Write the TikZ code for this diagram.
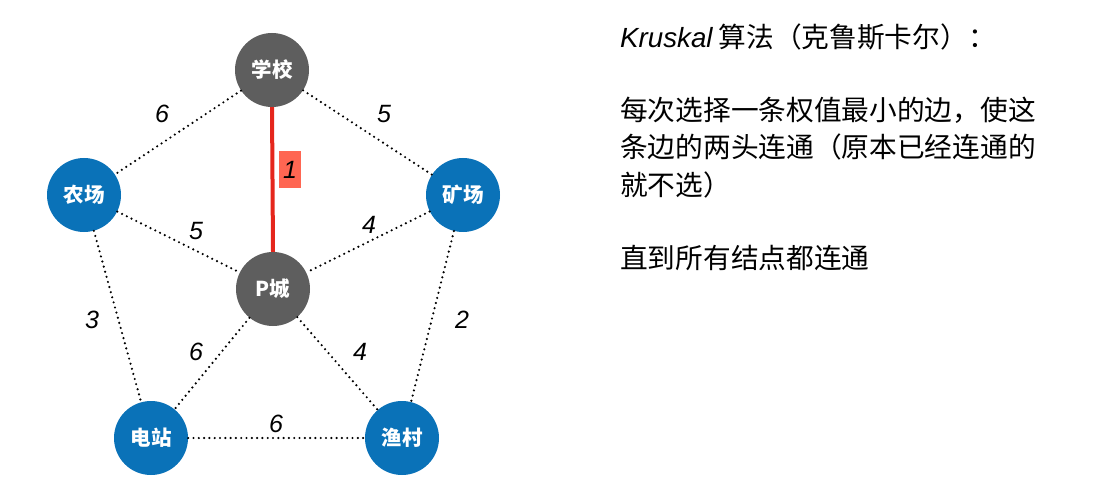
\documentclass[tikz,border=0pt]{standalone}
\usepackage{fontspec}
\setmainfont{Liberation Sans}
\newfontfamily\cjk{Noto Sans CJK SC}
\definecolor{nodegray}{HTML}{5E5E5E}
\definecolor{nodeblue}{HTML}{0A72B8}
\definecolor{redline}{HTML}{E5261C}
\definecolor{boxred}{HTML}{FF6652}
\tikzset{
  vtx/.style={circle, minimum size=74pt, inner sep=0pt, text=white, font=\fontsize{20.5}{24}\selectfont\cjk\bfseries},
  grayv/.style={vtx, fill=nodegray},
  bluev/.style={vtx, fill=nodeblue},
  dotedge/.style={line width=2.4pt, dash pattern=on 0pt off 5.3pt, line cap=round, black},
  redge/.style={line width=4pt, redline},
  wlabel/.style={font=\fontsize{25}{30}\selectfont\itshape, inner sep=0pt},
  txt/.style={anchor=west, inner sep=0pt, font=\fontsize{27.7}{34}\selectfont\cjk}
}
\begin{document}
\begin{tikzpicture}[x=1pt, y=-1pt]
\useasboundingbox (0,0) rectangle (1120,492);
% nodes
\node[grayv] (school) at (272,70) {学校};
\node[bluev] (farm) at (84,195) {农场};
\node[bluev] (mine) at (463,195) {矿场};
\node[grayv] (pcity) at (273,289) {P城};
\node[bluev] (power) at (151,438) {电站};
\node[bluev] (fish) at (402,438) {渔村};
% edges
\draw[dotedge] (school) -- (farm);
\draw[dotedge] (school) -- (mine);
\draw[dotedge] (farm) -- (pcity);
\draw[dotedge] (mine) -- (pcity);
\draw[dotedge] (farm) -- (power);
\draw[dotedge] (mine) -- (fish);
\draw[dotedge] (pcity) -- (power);
\draw[dotedge] (pcity) -- (fish);
\draw[dotedge] (power) -- (fish);
\draw[redge] (school.south) -- (pcity.north);
% weights
\node[wlabel] (w1) at (162,114) {6};
\node[wlabel] (w2) at (384,114) {5};
\node[wlabel, fill=boxred, minimum width=22pt, minimum height=37pt] (w3) at (290,170) {1};
\node[wlabel] (w4) at (196,231) {5};
\node[wlabel] (w5) at (369,225) {4};
\node[wlabel] (w6) at (92,320) {3};
\node[wlabel] (w7) at (462,320) {2};
\node[wlabel] (w8) at (196,352) {6};
\node[wlabel] (w9) at (360,352) {4};
\node[wlabel] (w10) at (276,424) {6};
% right text
\node[txt] (t1) at (620,37) {{\rmfamily\itshape Kruskal} 算法（克鲁斯卡尔）：};
\node[txt] (t2) at (620,110) {每次选择一条权值最小的边，使这};
\node[txt] (t3) at (620,147) {条边的两头连通（原本已经连通的};
\node[txt] (t4) at (620,185) {就不选）};
\node[txt] (t5) at (620,258) {直到所有结点都连通};
\end{tikzpicture}
\end{document}
